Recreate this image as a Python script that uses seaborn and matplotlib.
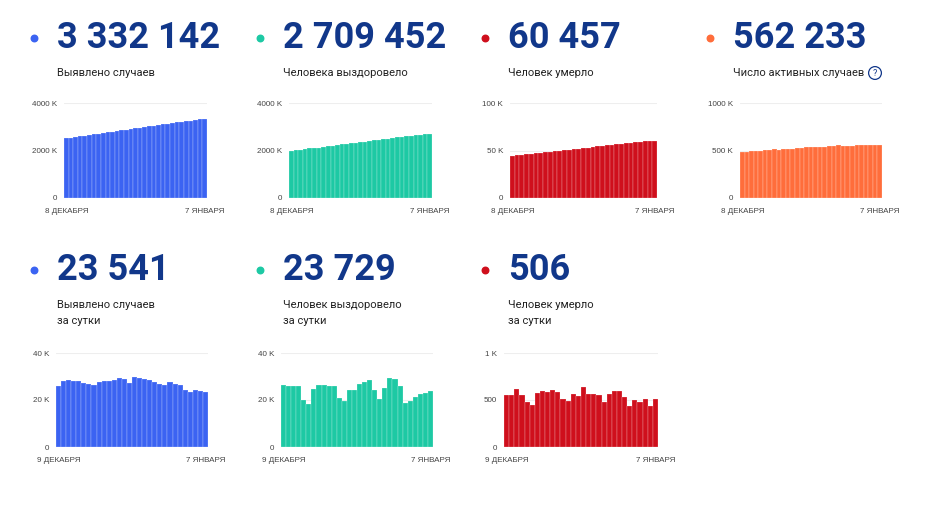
import pandas as pd
import seaborn as sns
import matplotlib.pyplot as plt

# Data (thousands for the cumulative charts)
cases_total_k = [2516.9, 2543.0, 2570.9, 2599.5, 2627.6, 2655.7, 2683.0, 2709.7, 2735.9, 2763.6,
                 2791.8, 2820.0, 2848.6, 2878.0, 2906.8, 2934.2, 2964.1, 2993.4, 3022.4, 3050.7,
                 3078.5, 3105.5, 3132.0, 3159.7, 3186.7, 3213.0, 3237.2, 3260.6, 3284.8, 3308.5, 3332.1]
recovered_total_k = [1983.5, 2009.8, 2035.6, 2061.6, 2087.6, 2107.7, 2126.0, 2150.6, 2177.1, 2203.4,
                     2229.4, 2255.4, 2276.2, 2295.6, 2319.7, 2344.1, 2371.0, 2398.5, 2426.8, 2451.2,
                     2471.6, 2496.5, 2525.8, 2554.7, 2580.5, 2599.2, 2618.9, 2640.0, 2662.7, 2685.8, 2709.5]
deaths_total_k = [44.26, 44.81, 45.37, 45.98, 46.54, 47.02, 47.46, 48.03, 48.62, 49.21,
                  49.82, 50.41, 50.92, 51.40, 51.96, 52.51, 53.14, 53.71, 54.27, 54.82,
                  55.30, 55.86, 56.46, 57.05, 57.58, 58.02, 58.52, 59.00, 59.51, 59.95, 60.46]
active_k = [489.1, 488.4, 489.9, 491.9, 493.5, 501.0, 509.5, 511.1, 510.2, 511.0,
            512.6, 514.2, 521.5, 531.0, 535.1, 537.6, 540.0, 541.2, 541.3, 544.7,
            551.6, 553.1, 549.7, 548.0, 548.6, 555.8, 559.8, 561.6, 562.6, 562.8, 562.2]

daily_cases_k = [26.1, 27.9, 28.6, 28.1, 28.1, 27.3, 26.7, 26.2, 27.7, 28.2,
                 28.2, 28.6, 29.4, 28.8, 27.4, 29.9, 29.3, 29.0, 28.3, 27.8,
                 27.0, 26.5, 27.7, 27.0, 26.3, 24.2, 23.4, 24.2, 23.7, 23.5]
daily_recovered_k = [26.3, 25.8, 26.0, 26.0, 20.1, 18.3, 24.6, 26.5, 26.3, 26.0,
                     26.0, 20.8, 19.4, 24.1, 24.4, 26.9, 27.5, 28.3, 24.4, 20.4,
                     24.9, 29.3, 28.9, 25.8, 18.7, 19.7, 21.1, 22.7, 23.1, 23.7]
daily_deaths = [557, 557, 614, 557, 482, 443, 571, 593, 586, 611,
                586, 507, 486, 561, 543, 636, 561, 564, 550, 482,
                561, 596, 593, 532, 439, 500, 479, 514, 439, 506]

big_numbers = ["3 332 142", "2 709 452", "60 457", "562 233", "23 541", "23 729", "506"]
captions = ["Выявлено случаев", "Человека выздоровело", "Человек умерло", "Число активных случаев",
            "Выявлено случаев\nза сутки", "Человек выздоровело\nза сутки", "Человек умерло\nза сутки"]
first_day = ["8 ДЕКАБРЯ"] * 4 + ["9 ДЕКАБРЯ"] * 3
last_day = "7 ЯНВАРЯ"

blue, teal, red, orange = "#3b63f2", "#1dc9a4", "#cf0f1c", "#ff6d3b"
navy = "#11378a"

panels = [
    # values, color, yticks, yticklabels, box (left, right, bottom, top) in px, text x, text y
    (cases_total_k, blue, [0, 2000, 4000], ["0", "2000 K", "4000 K"], (64, 207, 198, 103), 57, 38),
    (recovered_total_k, teal, [0, 2000, 4000], ["0", "2000 K", "4000 K"], (289, 432, 198, 103), 283, 38),
    (deaths_total_k, red, [0, 50, 100], ["0", "50 K", "100 K"], (510, 657, 198, 103), 508, 38),
    (active_k, orange, [0, 500, 1000], ["0", "500 K", "1000 K"], (740, 882, 198, 103), 733, 38),
    (daily_cases_k, blue, [0, 20, 40], ["0", "20 K", "40 K"], (56, 208, 447, 353), 57, 270),
    (daily_recovered_k, teal, [0, 20, 40], ["0", "20 K", "40 K"], (281, 433, 447, 353), 283, 270),
    (daily_deaths, red, [0, 500, 1000], ["0", "500", "1 K"], (504, 658, 447, 353), 508, 270),
]

sns.set_theme(style="white")
plt.rcParams['font.family'] = ['Roboto', 'DejaVu Sans']

W, H = 927, 516
fig = plt.figure(figsize=(W / 100, H / 100), dpi=100)

# overlay in pixel coordinates for the headline texts
over = fig.add_axes([0, 0, 1, 1])
over.set_xlim(0, W)
over.set_ylim(H, 0)
over.axis("off")

for i, (vals, col, yt, ytl, box, tx, ty) in enumerate(panels):
    l, r, b, t = box
    ax = fig.add_axes([l / W, 1 - b / H, (r - l) / W, (b - t) / H])
    df = pd.DataFrame({"day": range(len(vals)), "value": vals})
    sns.barplot(data=df, x="day", y="value", color=col, saturation=1, width=1,
                edgecolor=(1, 1, 1, 0.45), linewidth=0.35, ax=ax)
    ax.set_xlim(-0.5, len(vals) - 0.5)
    ax.set_ylim(0, yt[-1])
    ax.set_yticks(yt)
    ax.set_yticklabels(ytl, family=["Liberation Sans", "DejaVu Sans"])
    ax.set_xticks([0, len(vals) - 1])
    ax.set_xticklabels([first_day[i], last_day], family=["Liberation Sans", "DejaVu Sans"])
    ax.set_xlabel("")
    ax.set_ylabel("")
    ax.yaxis.grid(True, color="#eeeeee", linewidth=0.8)
    ax.set_axisbelow(True)
    ax.tick_params(axis="both", length=0, labelsize=5.8, labelcolor="#444444")
    ax.tick_params(axis="y", pad=5)
    ax.tick_params(axis="x", pad=7)
    sns.despine(ax=ax, left=True, bottom=True)

    # dot, big number and caption
    over.scatter([tx - 23], [38 if i < 4 else 270], s=22, color=col, zorder=3)
    over.text(tx, ty, big_numbers[i], fontsize=26, fontweight="bold", color=navy,
              ha="left", va="center")
    over.text(tx, ty + 30, captions[i], fontsize=8, color="#222222",
              ha="left", va="top", linespacing=1.75)

# info icon next to the active cases caption
over.scatter([875], [73], s=85, facecolors="none", edgecolors=navy, linewidths=0.9, zorder=3)
over.text(875, 73.5, "?", fontsize=6.5, color=navy, ha="center", va="center")

plt.savefig("out.png", dpi=100)
